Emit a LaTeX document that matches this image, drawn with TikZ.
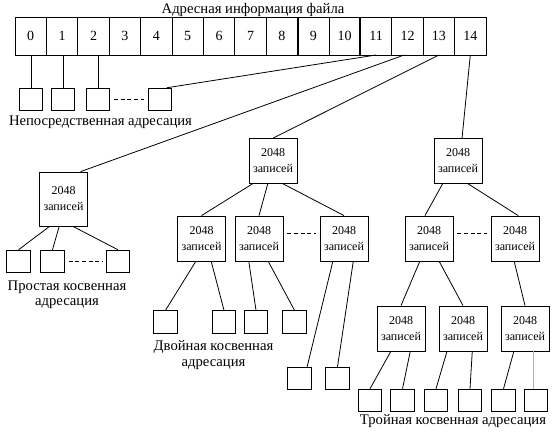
\documentclass[tikz,border=0pt]{standalone}
\usepackage{fontspec}
\setmainfont{Liberation Serif}
\usetikzlibrary{positioning,calc}

\begin{document}
\begin{tikzpicture}[x=0.75pt, y=-0.75pt, semithick,
        cell/.style={rectangle, draw, minimum width=23.55pt, minimum height=28.5pt, inner sep=0pt, outer sep=0pt, font=\fontsize{10.5}{12}\selectfont},
        rec/.style={rectangle, draw, minimum width=36pt, minimum height=33.75pt, inner sep=1pt, align=center, font=\fontsize{9}{12}\selectfont},
        leaf/.style={rectangle, draw, minimum width=17.5pt, minimum height=17pt, inner sep=0pt},
        lbl/.style={align=center, font=\fontsize{11}{11.5}\selectfont},
        dots/.style={dash pattern=on 3pt off 2pt, shorten <=3pt, shorten >=3pt}
    ]
        \useasboundingbox (0,0) rectangle (555,434);

        % File address information
        \foreach \i in {0,...,14}
            \node[cell] (c\i) at ({30.7+31.4*\i},36) {\i};
        \draw[line width=1.5pt] (c8.north east) -- (c8.south east);
        \draw[line width=1.5pt] (c10.north east) -- (c10.south east);
        \node[lbl] (title) at (253,10) {Адресная информация файла};

        % Direct addressing
        \node[leaf] (d0) at (31,99.5) {};
        \node[leaf] (d1) at (63,99.5) {};
        \node[leaf] (d2) at (98,99.5) {};
        \node[leaf] (d3) at (160,99.5) {};
        \draw (d0.north) -- (d0.north |- c0.south);
        \draw (d1.north) -- (d1.north |- c1.south);
        \draw (d2.north) -- (d2.north |- c2.south);
        \draw[dots] (d2) -- (d3);
        \draw (c11.south) -- (d3.60);
        \node[lbl] (dlbl) at (100.5,122) {Непосредственная адресация};

        % Single indirect
        \node[rec, minimum height=40.5pt] (s) at (63.5,199) {2048\\записей};
        \node[leaf] (s1) at (18.5,261.5) {};
        \node[leaf] (s2) at (52.5,261.5) {};
        \node[leaf] (s3) at (118,261.5) {};
        \draw (c12.260) -- (s.58);
        \draw (s.243) -- (s1.north);
        \draw (s.261) -- (s2.north);
        \draw (s.289) -- (s3.north);
        \draw[dots] (s2) -- (s3);
        \node[lbl] (slbl) at (67,295) {Простая косвенная\\адресация};

        % Double indirect
        \node[rec] (dd) at (273,161) {2048\\записей};
        \node[rec] (dd1) at (201.5,238.5) {2048\\записей};
        \node[rec] (dd2) at (259,238.5) {2048\\записей};
        \node[rec] (dd3) at (344,238.5) {2048\\записей};
        \draw (c13.south) -- (dd.north);
        \draw (dd.228) -- (dd1.north);
        \draw (dd.257) -- (dd2.north);
        \draw (dd.294) -- (dd3.north);
        \draw[dots] ([yshift=4pt]dd2.east) -- ([yshift=4pt]dd3.west);
        \node[leaf] (dl1) at (165.5,322) {};
        \node[leaf] (dl2) at (224,322) {};
        \node[leaf] (dl3) at (256,322) {};
        \node[leaf] (dl4) at (294.5,322) {};
        \node[leaf] (dl5) at (299.5,378.5) {};
        \node[leaf] (dl6) at (337.5,378.5) {};
        \draw (dd1.256) -- (dl1.north);
        \draw (dd1.293) -- (dl2.north);
        \draw (dd2.246) -- (dl3.north);
        \draw (dd2.292) -- (dl4.north);
        \draw (dd3.244) -- (dl5.57);
        \draw (dd3.292) -- (dl6.north);
        \node[lbl] (ddlbl) at (213.5,355) {Двойная косвенная\\адресация};

        % Triple indirect
        \node[rec] (t) at (458,161) {2048\\записей};
        \node[rec] (t1) at (429,238.5) {2048\\записей};
        \node[rec] (t2) at (515,238.5) {2048\\записей};
        \node[rec] (t3) at (401,328.5) {2048\\записей};
        \node[rec] (t4) at (463,328.5) {2048\\записей};
        \node[rec] (t5) at (525,328.5) {2048\\записей};
        \draw (c14.south) -- (t.80);
        \draw (t.236) -- (t1.100);
        \draw (t.294) -- (t2.82);
        \draw[dots] ([yshift=4pt]t1.east) -- ([yshift=4pt]t2.west);
        \draw (t1.248) -- (t3.north);
        \draw (t1.294) -- (t4.north);
        \draw (t2.268) -- (t5.north);
        \node[leaf] (tl1) at (370,400.5) {};
        \node[leaf] (tl2) at (402.5,400.5) {};
        \node[leaf] (tl3) at (436,400.5) {};
        \node[leaf] (tl4) at (470,400.5) {};
        \node[leaf] (tl5) at (503.5,400.5) {};
        \node[leaf] (tl6) at (536,400.5) {};
        \draw (t3.246) -- (tl1.north);
        \draw (t3.292) -- (tl2.north);
        \draw (t4.235) -- (tl3.north);
        \draw (t4.292) -- (tl4.north);
        \draw (t5.244) -- (tl5.north);
        \draw[gray!60] (t5.290) -- (t5.290 |- tl6.north);
        \node[lbl] (tlbl) at (453,421) {Тройная косвенная адресация};
    \end{tikzpicture}
\end{document}
